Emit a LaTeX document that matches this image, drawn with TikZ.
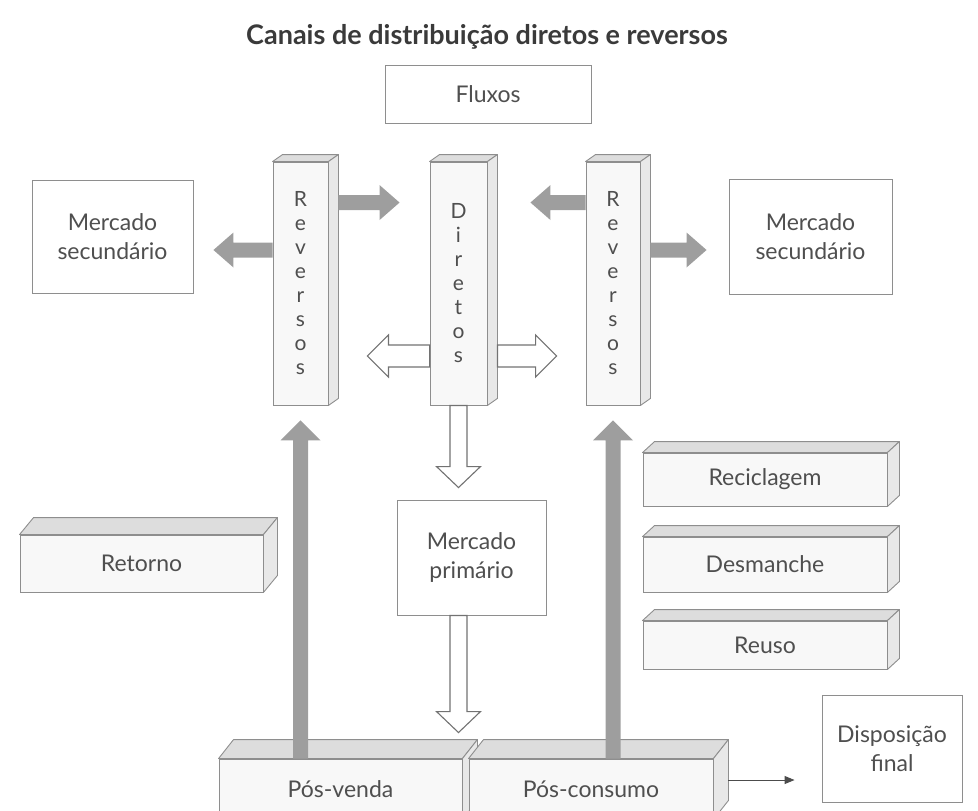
\documentclass[tikz,border=0pt]{standalone}
\usepackage{fontspec}
\setmainfont{Lato}
\usetikzlibrary{calc,arrows.meta,positioning}

\definecolor{borda}{HTML}{8E8E8E}
\definecolor{texto}{HTML}{4F4F4F}
\definecolor{titulo}{HTML}{3A3A3A}
\definecolor{cinza}{HTML}{9E9E9E}
\definecolor{facetopo}{HTML}{DDDDDD}
\definecolor{facelado}{HTML}{E8E8E8}
\definecolor{frente}{HTML}{F8F8F8}

% faces de cima e do lado de um prisma
\newcommand\facesprisma[3]{%
  \filldraw[topo] (#1.north west) -- ++(#2,-#3) -- ([shift={(#2,-#3)}]#1.north east) -- (#1.north east) -- cycle;
  \filldraw[lado] (#1.north east) -- ++(#2,-#3) -- ([shift={(#2,-#3)}]#1.south east) -- (#1.south east) -- cycle;}

\begin{document}
\begin{tikzpicture}[x=1pt,y=-1pt,
    caixa/.style={draw=borda, line width=0.9pt, fill=white, inner sep=0pt, text=texto,
      align=center, font=\fontsize{23}{29}\selectfont},
    prisma/.style={caixa, fill=frente},
    vertical/.style={prisma, font=\fontsize{21}{24}\selectfont},
    topo/.style={draw=borda, line width=0.9pt, fill=facetopo, line join=round},
    lado/.style={draw=borda, line width=0.9pt, fill=facelado, line join=round},
    seta/.style n args={3}{to path={let \p1=(\tikztostart), \p2=(\tikztotarget),
      \n1={abs(\x2-\x1)+abs(\y2-\y1)}, \n2={(\x2-\x1)/\n1}, \n3={(\y2-\y1)/\n1} in
      ({\x1-(\n3)*#1},{\y1+(\n2)*#1}) -- ({\x2-(\n2)*#3-(\n3)*#1},{\y2-(\n3)*#3+(\n2)*#1})
      -- ({\x2-(\n2)*#3-(\n3)*#2},{\y2-(\n3)*#3+(\n2)*#2}) -- (\x2,\y2)
      -- ({\x2-(\n2)*#3+(\n3)*#2},{\y2-(\n3)*#3-(\n2)*#2})
      -- ({\x2-(\n2)*#3+(\n3)*#1},{\y2-(\n3)*#3-(\n2)*#1})
      -- ({\x1+(\n3)*#1},{\y1-(\n2)*#1}) -- cycle}},
    cheia/.style={fill=cinza, draw=none},
    oca/.style={fill=white, draw=borda!80!black, line width=1.1pt, line join=miter}]
  \useasboundingbox (0,0) rectangle (978,811);

  \node[font=\bfseries\fontsize{27}{31}\selectfont, text=titulo] (tit) at (487,37)
    {Canais de distribuição diretos e reversos};
  \node[caixa, minimum width=206pt, minimum height=58pt] (fluxos) at (488,94) {Fluxos};

  \node[caixa, minimum width=161pt, minimum height=113pt] (msL) at (112.5,236.5) {Mercado\\secundário};
  \node[caixa, minimum width=163pt, minimum height=115pt] (msR) at (810.5,236.5) {Mercado\\secundário};

  % colunas
  \node[vertical, minimum width=55pt, minimum height=243pt] (revL) at (300.5,283.5) {R\\e\\v\\e\\r\\s\\o\\s};
  \node[vertical, minimum width=57pt, minimum height=243pt] (dir) at (458.5,283.5) {D\\i\\r\\e\\t\\o\\s};
  \node[vertical, minimum width=54pt, minimum height=243pt] (revR) at (613,283.5) {R\\e\\v\\e\\r\\s\\o\\s};
  \foreach \n in {revL,dir,revR} {\facesprisma{\n}{10}{7}}

  \node[caixa, minimum width=149pt, minimum height=115pt] (mprim) at (471.5,557.5) {Mercado\\primário};

  \node[prisma, minimum width=243pt, minimum height=57pt] (ret) at (141.5,563.5) {Retorno};
  \facesprisma{ret}{14}{17}

  \node[prisma, minimum width=244pt, minimum height=53pt] (recic) at (765,479.5) {Reciclagem};
  \node[prisma, minimum width=244pt, minimum height=55pt] (desm) at (765,564.5) {Desmanche};
  \node[prisma, minimum width=244pt, minimum height=48pt] (reuso) at (765,645) {Reuso};
  \foreach \n in {recic,desm,reuso} {\facesprisma{\n}{12}{11}}

  \node[prisma, minimum width=243pt, minimum height=60pt] (posv) at (340.5,789) {Pós-venda};
  \facesprisma{posv}{15}{19}
  \node[prisma, minimum width=244pt, minimum height=60pt] (posc) at (591,789) {Pós-consumo};
  \facesprisma{posc}{15}{19}

  \node[caixa, minimum width=140pt, minimum height=107pt] (disp) at (892,748.5) {Disposição\\final};

  % setas cinzentas
  \draw[cheia, seta={7.5pt}{17.5pt}{20pt}] ([shift={(10,41)}]revL.north east) to ([shift={(-30,41)}]dir.north west);
  \draw[cheia, seta={7.5pt}{17.5pt}{20pt}] ([shift={(0,41)}]revR.north west) to ([shift={(43,41)}]dir.north east);
  \draw[cheia, seta={7.5pt}{17.5pt}{20pt}] ([shift={(0,-33.5)}]revL.west) to ([shift={(20,13.5)}]msL.east);
  \draw[cheia, seta={7.5pt}{17.5pt}{20pt}] ([shift={(10,-33.5)}]revR.east) to ([shift={(-22,13.5)}]msR.west);
  \draw[cheia, seta={7.5pt}{20pt}{20pt}] (revL.south |- posv.north) to ([shift={(0,15)}]revL.south);
  \draw[cheia, seta={7.5pt}{20pt}{20pt}] (revR.south |- posc.north) to ([shift={(0,15)}]revR.south);

  % setas ocas
  \draw[oca, seta={11pt}{21pt}{21pt}] ([shift={(0,72.5)}]dir.west) to ([shift={(39,72.5)}]revL.east);
  \draw[oca, seta={11pt}{21pt}{21pt}] ([shift={(10,72.5)}]dir.east) to ([shift={(-29,72.5)}]revR.west);
  \draw[oca, seta={8.5pt}{22pt}{21pt}] (dir.south) to ($(dir.south |- mprim.north)+(0,-12)$);
  \draw[oca, seta={8.5pt}{22pt}{21pt}] (dir.south |- mprim.south) to ($(dir.south |- posv.north)+(0,-26)$);

  \draw[draw=black!75, line width=1pt, -{Triangle[length=10pt,width=8pt]}, black!70]
    ([shift={(15,-9)}]posc.east) to ([shift={(-27,31.5)}]disp.west);
\end{tikzpicture}
\end{document}
